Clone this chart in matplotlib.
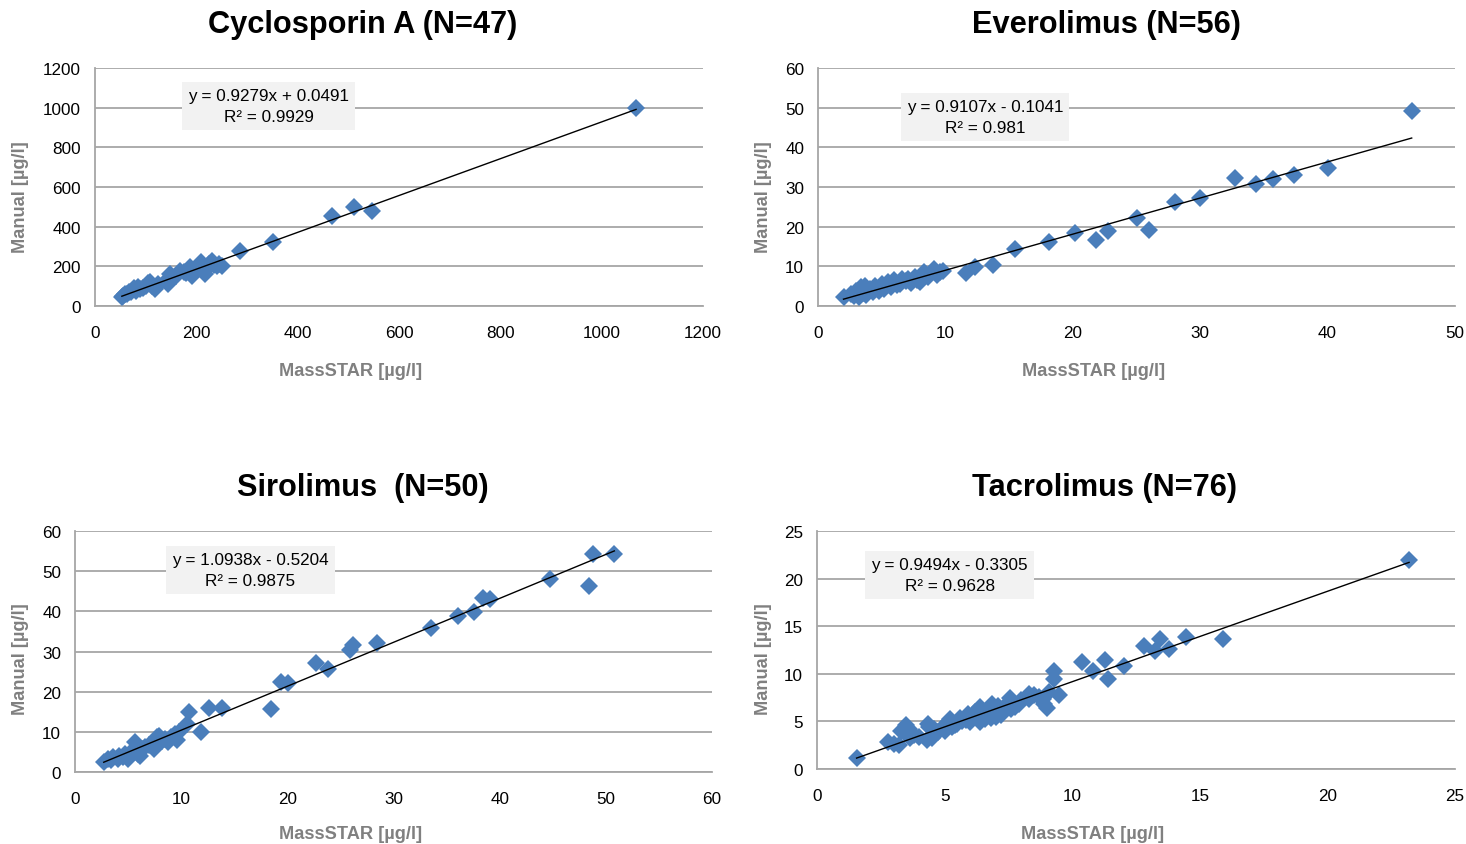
import numpy as np
import matplotlib
matplotlib.use("Agg")
import matplotlib.pyplot as plt
from matplotlib import font_manager

# --- data ---
cyclo_x = [1068, 512, 547, 468, 351, 287,
           53, 56, 60, 63, 68, 72, 76, 80, 85, 88, 95, 105, 108, 112, 118, 125, 140,
           145, 148, 152, 160, 168, 175, 180, 187, 191, 195, 200, 205, 210, 213, 217,
           220, 225, 230, 235, 240, 245, 250, 120, 100]
cyclo_y = [1000, 500, 480, 452, 321, 279,
           44, 50, 62, 58, 72, 68, 90, 78, 94, 85, 90, 115, 119, 100, 86, 110, 125,
           111, 161, 140, 150, 178, 170, 165, 195, 153, 180, 190, 200, 220, 175, 161,
           185, 210, 228, 205, 200, 210, 203, 95, 100]

evero_x = [46.6, 40.0, 37.4, 35.7, 34.4, 32.7, 30.0, 28.0, 26.0, 25.0, 22.8, 21.8,
           20.2, 18.1, 15.5, 13.7, 12.3, 11.6,
           2.0, 2.6, 3.0, 3.2, 3.4, 3.5, 3.7, 3.8, 4.0, 4.1, 4.3, 4.5, 4.7, 5.0, 5.2,
           5.5, 5.7, 6.0, 6.2, 6.4, 6.6, 6.9, 7.1, 7.3, 7.6, 7.8, 8.0, 8.2, 8.3, 8.6,
           8.8, 9.1, 9.3, 9.6, 9.8, 4.8, 2.8, 5.9]
evero_y = [49.2, 34.8, 33.0, 32.1, 30.8, 32.3, 27.2, 26.2, 19.2, 22.2, 19.0, 16.6,
           18.4, 16.1, 14.4, 10.3, 9.8, 8.4,
           2.2, 3.0, 3.9, 2.2, 4.7, 3.2, 5.0, 2.8, 4.0, 4.3, 3.5, 5.1, 4.4, 5.5, 4.2,
           6.0, 4.9, 6.5, 5.2, 5.5, 6.8, 6.2, 6.8, 5.9, 7.2, 6.5, 6.0, 7.5, 8.5, 7.2,
           8.0, 9.2, 7.8, 8.6, 8.7, 3.8, 2.5, 5.6]

siro_x = [50.8, 48.8, 48.4, 44.7, 39.1, 38.4, 37.6, 36.1, 33.5, 28.4, 26.2, 25.9,
          23.8, 22.7, 20.1, 19.4, 18.5, 10.5, 10.7, 11.9, 12.6, 13.8,
          2.7, 3.1, 3.4, 3.6, 4.0, 4.1, 4.5, 4.7, 5.0, 5.2, 5.5, 5.6, 5.9, 6.1, 6.3,
          6.6, 7.0, 7.4, 7.6, 7.7, 7.9, 8.2, 8.5, 9.0, 9.4, 9.6, 9.8, 8.8]
siro_y = [54.2, 54.2, 46.3, 48.0, 43.0, 43.3, 39.8, 38.8, 35.8, 32.1, 31.6, 30.3,
          25.6, 27.1, 22.1, 22.4, 15.7, 11.9, 14.9, 9.9, 15.9, 15.9,
          2.4, 3.2, 2.9, 3.7, 3.3, 4.1, 3.8, 4.5, 3.2, 4.8, 5.2, 7.4, 4.5, 4.1, 5.7,
          6.2, 6.6, 5.7, 7.0, 8.6, 9.0, 7.8, 8.2, 8.8, 9.5, 7.9, 9.9, 7.4]

tacro_x = [23.2, 15.9, 14.45, 13.8, 13.45, 13.25, 12.8, 12.04, 11.4, 11.3, 10.8, 10.4,
           9.3, 9.3, 9.5, 9.0, 8.85, 8.9, 8.3, 8.3, 8.5, 9.1, 8.7,
           1.55, 2.8, 3.0, 3.2, 3.3, 3.5, 3.6, 3.65, 3.8, 4.0, 4.3, 4.35, 4.4, 4.6, 4.75,
           4.9, 5.0, 5.15, 5.2, 5.4, 5.5, 5.6, 5.7, 5.85, 5.9, 6.0, 6.1, 6.26, 6.3, 6.4,
           6.4, 6.5, 6.6, 6.7, 6.85, 6.9, 7.0, 7.05, 7.1, 7.2, 7.3, 7.4, 7.55, 7.6, 7.7,
           7.77, 7.9, 8.0, 6.2, 5.3, 4.5, 6.8, 7.5]
tacro_y = [21.9, 13.7, 13.9, 12.6, 13.7, 12.4, 12.9, 10.8, 9.4, 11.4, 10.3, 11.2,
           10.3, 9.4, 7.8, 6.4, 7.4, 6.8, 7.9, 7.4, 7.8, 8.1, 7.6,
           1.2, 2.8, 2.6, 2.5, 4.0, 4.6, 4.2, 3.2, 3.6, 3.4, 3.0, 4.7, 4.4, 4.2, 3.85,
           4.3, 4.0, 4.9, 5.2, 4.6, 4.7, 5.4, 5.0, 5.1, 5.8, 4.9, 5.6, 5.6, 6.2, 6.5,
           4.9, 5.9, 5.2, 5.8, 6.8, 6.3, 5.5, 6.0, 6.6, 5.7, 6.1, 6.4, 7.5, 6.3, 6.6,
           6.5, 6.8, 7.2, 6.0, 4.4, 3.3, 5.4, 6.9]

titles = ["Cyclosporin A (N=47)", "Everolimus (N=56)", "Sirolimus  (N=50)", "Tacrolimus (N=76)"]
slopes = [0.9279, 0.9107, 1.0938, 0.9494]
intercepts = [0.0491, -0.1041, -0.5204, -0.3305]
r2_labels = ["0.9929", "0.981", "0.9875", "0.9628"]
eq_labels = ["y = 0.9279x + 0.0491", "y = 0.9107x - 0.1041",
             "y = 1.0938x - 0.5204", "y = 0.9494x - 0.3305"]
x_ticks = [[0, 200, 400, 600, 800, 1000, 1200], [0, 10, 20, 30, 40, 50],
           [0, 10, 20, 30, 40, 50, 60], [0, 5, 10, 15, 20, 25]]
y_ticks = [[0, 200, 400, 600, 800, 1000, 1200], [0, 10, 20, 30, 40, 50, 60],
           [0, 10, 20, 30, 40, 50, 60], [0, 5, 10, 15, 20, 25]]

# Arial Narrow look-alike if present, otherwise plain Liberation Sans
names = {f.name for f in font_manager.fontManager.ttflist}
if "Liberation Sans Narrow" in names:
    FONT, k = "Liberation Sans Narrow", 1.0
else:
    FONT, k = "Liberation Sans", 0.82
plt.rcParams['font.family'] = [FONT, 'DejaVu Sans']

BLUE = "#4a7ebb"
GRID = "#a6a6a6"
AXLAB = "#808080"

fig = plt.figure(figsize=(14.66, 8.45), dpi=100)

# axes rectangles (left, bottom, width, height) in figure fraction
rects = [(0.0648, 0.6367, 0.4147, 0.2817), (0.558, 0.6367, 0.4345, 0.2817),
         (0.0512, 0.0852, 0.4345, 0.2852), (0.5573, 0.0888, 0.4352, 0.2817)]
title_pos = [(0.2476, 0.970), (0.7544, 0.970), (0.2476, 0.4225), (0.7537, 0.4225)]
eq_pos = [(0.286, 0.84), (0.262, 0.794), (0.275, 0.838), (0.208, 0.815)]
xlab_pos = [(0.421, -0.235), (0.432, -0.235), (0.433, -0.22), (0.432, -0.235)]
ylab_pos = [(-0.108, 0.462), (-0.072, 0.462), (-0.072, 0.473), (-0.0705, 0.466)]

data = [(cyclo_x, cyclo_y), (evero_x, evero_y), (siro_x, siro_y), (tacro_x, tacro_y)]

for i, (xs, ys) in enumerate(data):
    ax = fig.add_axes(rects[i])
    xs = np.array(xs)
    ys = np.array(ys)

    ax.set_xlim(x_ticks[i][0], x_ticks[i][-1])
    ax.set_ylim(y_ticks[i][0], y_ticks[i][-1])
    ax.set_xticks(x_ticks[i])
    ax.set_yticks(y_ticks[i])
    ax.yaxis.grid(True, color=GRID, linewidth=1.3)
    ax.set_axisbelow(True)
    for s in ["top", "right"]:
        ax.spines[s].set_visible(False)
    for s in ["left", "bottom"]:
        ax.spines[s].set_color(GRID)
        ax.spines[s].set_linewidth(1.3)
    ax.tick_params(length=0, labelsize=15 * k, pad=10)
    ax.tick_params(axis='x', pad=14)

    ax.plot(xs, ys, linestyle='none', marker='D', markersize=9.5,
            color=BLUE, markeredgewidth=0, clip_on=False, zorder=3)

    # trendline as given by the fitted equation
    xl = np.array([xs.min(), xs.max()])
    ax.plot(xl, slopes[i] * xl + intercepts[i], color='black', linewidth=1.0, zorder=4)

    ax.text(eq_pos[i][0], eq_pos[i][1], eq_labels[i] + "\nR² = " + r2_labels[i],
            transform=ax.transAxes, ha='center', va='center', fontsize=15 * k,
            linespacing=1.45, zorder=5,
            bbox=dict(boxstyle='square,pad=0.35', facecolor='#f2f2f2', edgecolor='none'))

    ax.set_xlabel("MassSTAR [µg/l]", fontsize=16 * k, color=AXLAB, fontweight='bold')
    ax.xaxis.set_label_coords(*xlab_pos[i])
    ax.set_ylabel("Manual [µg/l]", fontsize=16 * k, color=AXLAB, fontweight='bold')
    ax.yaxis.set_label_coords(*ylab_pos[i])

    fig.text(title_pos[i][0], title_pos[i][1], titles[i], ha='center', va='center',
             fontsize=27 * k, fontweight='bold')

fig.savefig("out.png", dpi=100)
